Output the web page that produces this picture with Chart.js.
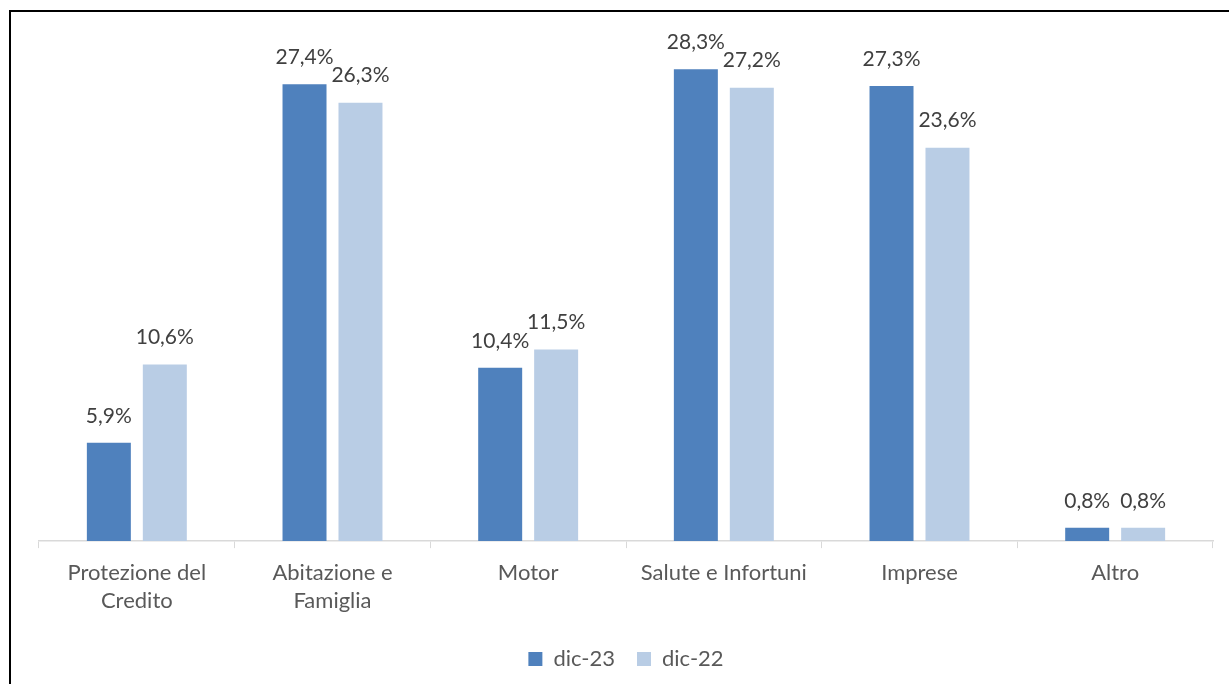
<!DOCTYPE html>
<html>
<head>
<meta charset="utf-8">
<script src="https://cdn.jsdelivr.net/npm/chart.js@4"></script>
<style>
  html, body { margin: 0; padding: 0; background: #fff; overflow: hidden; }
  #frame {
    position: absolute; left: 9px; top: 10px; width: 1300px; height: 700px;
    border-left: 2px solid #000; border-top: 2px solid #000;
  }
  #wrap { position: absolute; left: 0; top: 0; width: 1229px; height: 684px; }
</style>
</head>
<body>
<div id="frame"></div>
<div id="wrap"><canvas id="chart"></canvas></div>
<script>
const categories = [
  ["Protezione del", "Credito"],
  ["Abitazione e", "Famiglia"],
  "Motor",
  "Salute e Infortuni",
  "Imprese",
  "Altro",
];
const dic23 = [5.9, 27.4, 10.4, 28.3, 27.3, 0.8];
const dic22 = [10.6, 26.3, 11.5, 27.2, 23.6, 0.8];
const seriesNames = ["dic-23", "dic-22"];

const FONT = "Lato, 'Open Sans', sans-serif";

// simple data labels above each bar
const barLabels = {
  id: "barLabels",
  afterDatasetsDraw(chart) {
    const ctx = chart.ctx;
    ctx.save();
    ctx.font = "21px " + FONT;
    ctx.fillStyle = "#404040";
    ctx.textAlign = "center";
    ctx.textBaseline = "middle";
    chart.data.datasets.forEach((ds, i) => {
      chart.getDatasetMeta(i).data.forEach((bar, j) => {
        const txt = ds.data[j].toFixed(1).replace(".", ",") + "%";
        ctx.fillText(txt, bar.x, bar.y - 27);
      });
    });
    ctx.restore();
  },
};

document.addEventListener("DOMContentLoaded", () => {
  const ctx = document.getElementById("chart").getContext("2d");
  new Chart(ctx, {
    type: "bar",
    data: {
      labels: categories,
      datasets: [
        {
          label: seriesNames[0],
          data: dic23,
          backgroundColor: "#4f81bd",
          categoryPercentage: 0.572,
          barPercentage: 0.786,
        },
        {
          label: seriesNames[1],
          data: dic22,
          backgroundColor: "#b9cde5",
          categoryPercentage: 0.572,
          barPercentage: 0.786,
        },
      ],
    },
    options: {
      responsive: true,
      maintainAspectRatio: false,
      animation: false,
      layout: {
        padding: { left: 39, right: 16, top: 41, bottom: 4 },
      },
      scales: {
        y: {
          display: false,
          min: 0,
          max: 30,
        },
        x: {
          grid: {
            drawOnChartArea: false,
            drawTicks: true,
            tickLength: 7,
            color: "#d9d9d9",
          },
          border: { display: true, color: "#d9d9d9", width: 1.5 },
          ticks: {
            color: "#595959",
            font: { family: FONT, size: 22, lineHeight: 1.27 },
            padding: 11,
            maxRotation: 0,
          },
        },
      },
      plugins: {
        legend: {
          display: true,
          position: "bottom",
          labels: {
            color: "#595959",
            font: { family: FONT, size: 22 },
            boxWidth: 14,
            boxHeight: 14,
            padding: 22,
          },
        },
        tooltip: { enabled: false },
      },
    },
    plugins: [barLabels],
  });
});
</script>
</body>
</html>
